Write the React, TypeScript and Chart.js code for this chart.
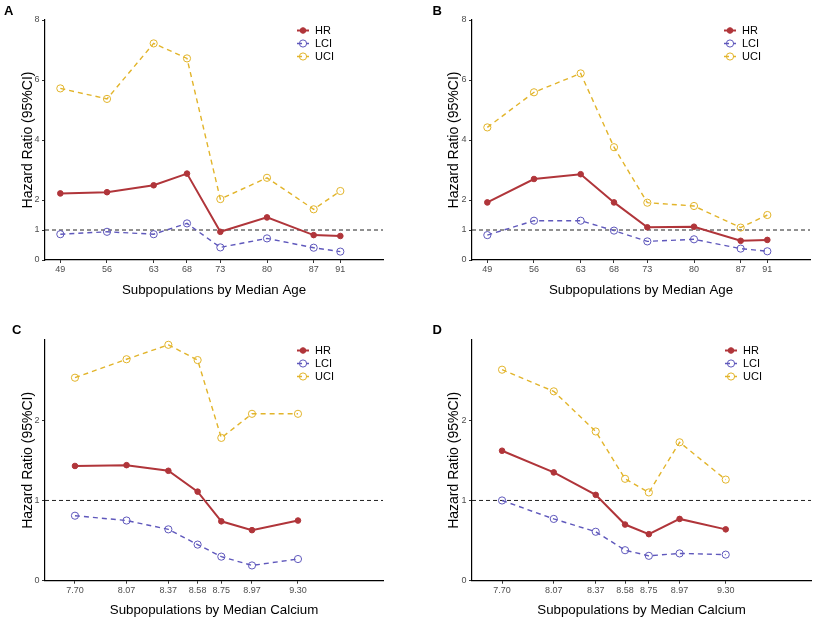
import React, { useEffect, useRef } from "react";
import { Chart, registerables } from "chart.js";

Chart.register(...registerables);

// ---------- data ----------
const AGE_X = [49, 56, 63, 68, 73, 80, 87, 91];
const CALCIUM_X = [7.7, 8.07, 8.37, 8.58, 8.75, 8.97, 9.3];

const A_HR = [2.22, 2.26, 2.49, 2.88, 0.94, 1.42, 0.83, 0.8];
const A_LCI = [0.86, 0.94, 0.86, 1.22, 0.42, 0.72, 0.41, 0.28];
const A_UCI = [5.72, 5.37, 7.22, 6.72, 2.03, 2.74, 1.69, 2.3];

const B_HR = [1.92, 2.7, 2.86, 1.92, 1.09, 1.11, 0.64, 0.67];
const B_LCI = [0.83, 1.31, 1.31, 0.98, 0.62, 0.69, 0.38, 0.29];
const B_UCI = [4.42, 5.59, 6.22, 3.76, 1.91, 1.8, 1.08, 1.5];

const C_HR = [1.43, 1.44, 1.37, 1.11, 0.74, 0.63, 0.75];
const C_LCI = [0.81, 0.75, 0.64, 0.45, 0.3, 0.19, 0.27];
const C_UCI = [2.53, 2.76, 2.94, 2.75, 1.78, 2.08, 2.08];

const D_HR = [1.62, 1.35, 1.07, 0.7, 0.58, 0.77, 0.64];
const D_LCI = [1.0, 0.77, 0.61, 0.38, 0.31, 0.34, 0.325];
const D_UCI = [2.63, 2.36, 1.86, 1.27, 1.1, 1.725, 1.26];

const AGE_Y_TICKS = [0, 1, 2, 4, 6, 8];
const CALCIUM_Y_TICKS = [0, 1, 2];
const AGE_X_RANGE = [46.7, 97.4];
const CALCIUM_X_RANGE = [7.485, 9.91];
const AGE_Y_MAX = 8;
const CALCIUM_Y_MAX = 3;
const REFERENCE_HR = 1;

const SERIES_NAMES = ["HR", "LCI", "UCI"];
const Y_TITLE = "Hazard Ratio (95%CI)";
const AGE_X_TITLE = "Subpopulations by Median Age";
const CALCIUM_X_TITLE = "Subpopulations by Median Calcium";

// ---------- styles ----------
const FONT = "'Liberation Sans', Arial, Helvetica, sans-serif";
const COLORS = { HR: "#B0353A", LCI: "#5F58BC", UCI: "#E2B42A" };
Chart.defaults.font.family = FONT;

type Panel = {
  letter: string;
  xs: number[];
  hr: number[];
  lci: number[];
  uci: number[];
  yTicks: number[];
  yMax: number;
  xRange: number[];
  decimals: number;
  xTitle: string;
  left: number;
  top: number;
  w: number;
  h: number;
  yAxisW: number;
  padRight: number;
  padTop: number;
  xAxisH: number;
  yTitlePad: number;
  xTitlePad: number;
  letterLeft: number;
  letterTop: number;
};

const PANELS: Panel[] = [
  {
    letter: "A", xs: AGE_X, hr: A_HR, lci: A_LCI, uci: A_UCI, yTicks: AGE_Y_TICKS, yMax: AGE_Y_MAX,
    xRange: AGE_X_RANGE, decimals: 0, xTitle: AGE_X_TITLE,
    left: 0, top: 0, w: 412, h: 310, yAxisW: 45, padRight: 29, padTop: 20, xAxisH: 50,
    yTitlePad: 19.9, xTitlePad: 12, letterLeft: 4, letterTop: 4.3,
  },
  {
    letter: "B", xs: AGE_X, hr: B_HR, lci: B_LCI, uci: B_UCI, yTicks: AGE_Y_TICKS, yMax: AGE_Y_MAX,
    xRange: AGE_X_RANGE, decimals: 0, xTitle: AGE_X_TITLE,
    left: 412, top: 0, w: 412, h: 310, yAxisW: 60, padRight: 14, padTop: 20, xAxisH: 50,
    yTitlePad: 33.3, xTitlePad: 12, letterLeft: 432.5, letterTop: 3.5,
  },
  {
    letter: "C", xs: CALCIUM_X, hr: C_HR, lci: C_LCI, uci: C_UCI, yTicks: CALCIUM_Y_TICKS, yMax: CALCIUM_Y_MAX,
    xRange: CALCIUM_X_RANGE, decimals: 2, xTitle: CALCIUM_X_TITLE,
    left: 0, top: 310, w: 412, h: 315, yAxisW: 45, padRight: 29, padTop: 30, xAxisH: 44.3,
    yTitlePad: 19.9, xTitlePad: 6.3, letterLeft: 12, letterTop: 323.3,
  },
  {
    letter: "D", xs: CALCIUM_X, hr: D_HR, lci: D_LCI, uci: D_UCI, yTicks: CALCIUM_Y_TICKS, yMax: CALCIUM_Y_MAX,
    xRange: CALCIUM_X_RANGE, decimals: 2, xTitle: CALCIUM_X_TITLE,
    left: 412, top: 310, w: 412, h: 315, yAxisW: 60, padRight: 13, padTop: 30, xAxisH: 44.3,
    yTitlePad: 33.3, xTitlePad: 6.3, letterLeft: 432.5, letterTop: 323.3,
  },
];

const refLinePlugin = {
  id: "refLine",
  beforeDatasetsDraw(chart: any) {
    const { ctx, chartArea, scales } = chart;
    const y = scales.y.getPixelForValue(REFERENCE_HR);
    ctx.save();
    ctx.strokeStyle = "#222";
    ctx.lineWidth = 1;
    ctx.setLineDash([4, 3]);
    ctx.beginPath();
    ctx.moveTo(chartArea.left, y);
    ctx.lineTo(chartArea.right, y);
    ctx.stroke();
    ctx.restore();
  },
};

function makeLegendPlugin(topOffset: number) {
  return {
    id: "insideLegend",
    afterDraw(chart: any) {
      const { ctx, chartArea } = chart;
      const x0 = chartArea.right - 68;
      chart.data.datasets.forEach((ds: any, i: number) => {
        const y = chartArea.top + topOffset + i * 13;
        ctx.save();
        ctx.strokeStyle = ds.borderColor;
        ctx.lineWidth = ds.borderWidth;
        ctx.setLineDash(ds.borderDash || []);
        ctx.beginPath();
        ctx.moveTo(x0 - 18, y);
        ctx.lineTo(x0 - 6, y);
        ctx.stroke();
        ctx.setLineDash([]);
        ctx.beginPath();
        ctx.arc(x0 - 12, y, ds.pointRadius, 0, Math.PI * 2);
        ctx.fillStyle = ds.pointBackgroundColor;
        ctx.fill();
        ctx.lineWidth = ds.pointBorderWidth;
        ctx.strokeStyle = ds.pointBorderColor;
        ctx.stroke();
        ctx.fillStyle = "#000";
        ctx.font = `11px ${FONT}`;
        ctx.textBaseline = "middle";
        ctx.textAlign = "left";
        ctx.fillText(ds.label, x0, y);
        ctx.restore();
      });
    },
  };
}

function makeDatasets(xs: number[], hr: number[], lci: number[], uci: number[]) {
  const pts = (ys: number[]) => xs.map((x, i) => ({ x, y: ys[i] }));
  return [
    {
      label: SERIES_NAMES[0],
      data: pts(hr),
      borderColor: COLORS.HR,
      backgroundColor: COLORS.HR,
      borderWidth: 2,
      pointRadius: 2.8,
      pointBackgroundColor: COLORS.HR,
      pointBorderColor: COLORS.HR,
      pointBorderWidth: 1,
      tension: 0,
      fill: false,
    },
    {
      label: SERIES_NAMES[1],
      data: pts(lci),
      borderColor: COLORS.LCI,
      backgroundColor: COLORS.LCI,
      borderWidth: 1.4,
      borderDash: [5, 4],
      pointRadius: 3.6,
      pointBackgroundColor: "rgba(255,255,255,0)",
      pointBorderColor: COLORS.LCI,
      pointBorderWidth: 1,
      tension: 0,
      fill: false,
    },
    {
      label: SERIES_NAMES[2],
      data: pts(uci),
      borderColor: COLORS.UCI,
      backgroundColor: COLORS.UCI,
      borderWidth: 1.4,
      borderDash: [5, 4],
      pointRadius: 3.6,
      pointBackgroundColor: "rgba(255,255,255,0)",
      pointBorderColor: COLORS.UCI,
      pointBorderWidth: 1,
      tension: 0,
      fill: false,
    },
  ];
}

function PanelChart({ p }: { p: Panel }) {
  const ref = useRef<HTMLCanvasElement | null>(null);
  useEffect(() => {
    if (!ref.current) return;
    const gridOpts = {
      display: true,
      drawOnChartArea: false,
      drawTicks: true,
      tickLength: 3,
      color: "#333",
      lineWidth: 1,
    };
    const borderOpts = { display: true, color: "#000", width: 1.2 };
    const chart = new Chart(ref.current, {
      type: "line",
      data: { datasets: makeDatasets(p.xs, p.hr, p.lci, p.uci) as any },
      options: {
        responsive: false,
        animation: false,
        devicePixelRatio: window.devicePixelRatio || 1,
        layout: { padding: { left: 0, right: p.padRight, top: p.padTop, bottom: 0 } },
        plugins: {
          legend: { display: false },
          tooltip: { enabled: false },
        },
        scales: {
          x: {
            type: "linear",
            min: p.xRange[0],
            max: p.xRange[1],
            afterBuildTicks: (s: any) => {
              s.ticks = p.xs.map((v) => ({ value: v }));
            },
            afterFit: (s: any) => {
              s.height = p.xAxisH;
            },
            ticks: {
              autoSkip: false,
              maxRotation: 0,
              padding: 1,
              color: "#4D4D4D",
              font: { size: 9 },
              callback: (v: any) => Number(v).toFixed(p.decimals),
            },
            grid: gridOpts,
            border: borderOpts,
            title: {
              display: true,
              text: p.xTitle,
              color: "#000",
              font: { size: 13.3 },
              padding: { top: 0, bottom: p.xTitlePad },
            },
          },
          y: {
            type: "linear",
            min: 0,
            max: p.yMax,
            afterBuildTicks: (s: any) => {
              s.ticks = p.yTicks.filter((v) => v <= p.yMax).map((v) => ({ value: v }));
            },
            afterFit: (s: any) => {
              s.width = p.yAxisW;
            },
            ticks: {
              autoSkip: false,
              padding: 2.5,
              color: "#4D4D4D",
              font: { size: 9 },
              callback: (v: any) => String(v),
            },
            grid: gridOpts,
            border: borderOpts,
            title: {
              display: true,
              text: Y_TITLE,
              color: "#000",
              font: { size: 14 },
              padding: { top: p.yTitlePad, bottom: 0 },
            },
          },
        },
      } as any,
      plugins: [refLinePlugin, makeLegendPlugin(10.5)],
    });
    return () => chart.destroy();
  }, [p]);
  return (
    <canvas
      ref={ref}
      width={p.w}
      height={p.h}
      style={{ position: "absolute", left: p.left, top: p.top, width: p.w, height: p.h }}
    />
  );
}

export default function App() {
  return (
    <div
      style={{
        position: "absolute",
        left: 0,
        top: 0,
        width: 824,
        height: 625,
        overflow: "hidden",
        background: "#fff",
        fontFamily: FONT,
      }}
    >
      {PANELS.map((p) => (
        <PanelChart key={p.letter} p={p} />
      ))}
      {PANELS.map((p) => (
        <div
          key={"l" + p.letter}
          style={{
            position: "absolute",
            left: p.letterLeft,
            top: p.letterTop,
            fontSize: 13,
            lineHeight: "13px",
            fontWeight: "bold",
            color: "#000",
          }}
        >
          {p.letter}
        </div>
      ))}
    </div>
  );
}
